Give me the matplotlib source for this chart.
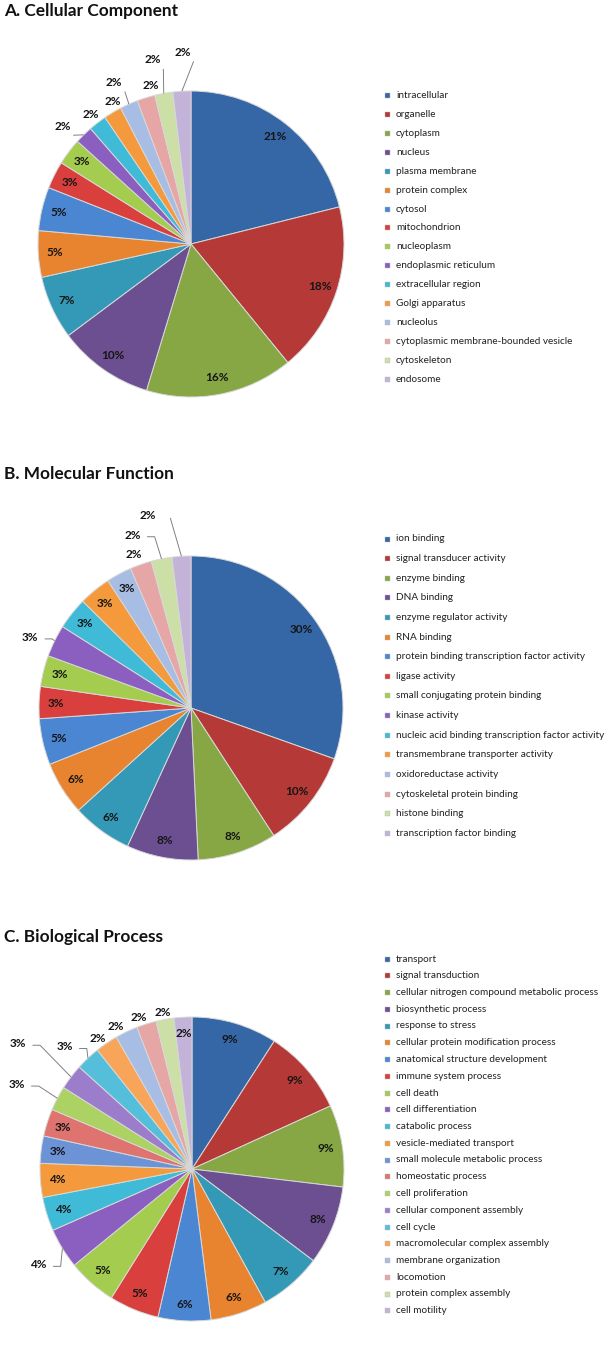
import numpy as np
import matplotlib
matplotlib.use("Agg")
import matplotlib.pyplot as plt
from matplotlib.patches import Rectangle

plt.rcParams['font.family'] = ['Lato', 'DejaVu Sans']

# ---------------- data ----------------
cc_labels = ["intracellular", "organelle", "cytoplasm", "nucleus", "plasma membrane",
             "protein complex", "cytosol", "mitochondrion", "nucleoplasm",
             "endoplasmic reticulum", "extracellular region", "Golgi apparatus",
             "nucleolus", "cytoplasmic membrane-bounded vesicle", "cytoskeleton", "endosome"]
cc_values = [21.1, 18.0, 15.6, 10.1, 6.7, 4.9, 4.6, 2.9, 2.8, 1.9, 1.9, 1.9, 1.9, 1.9, 1.9, 1.9]

mf_labels = ["ion binding", "signal transducer activity", "enzyme binding", "DNA binding",
             "enzyme regulator activity", "RNA binding",
             "protein binding transcription factor activity", "ligase activity",
             "small conjugating protein binding", "kinase activity",
             "nucleic acid binding transcription factor activity",
             "transmembrane transporter activity", "oxidoreductase activity",
             "cytoskeletal protein binding", "histone binding", "transcription factor binding"]
mf_values = [30.4, 10.4, 8.4, 7.6, 6.4, 5.7, 4.9, 3.4, 3.3, 3.4, 3.4, 3.4, 2.7, 2.3, 2.2, 2.0]

bp_labels = ["transport", "signal transduction", "cellular nitrogen compound metabolic process",
             "biosynthetic process", "response to stress", "cellular protein modification process",
             "anatomical structure development", "immune system process", "cell death",
             "cell differentiation", "catabolic process", "vesicle-mediated transport",
             "small molecule metabolic process", "homeostatic process", "cell proliferation",
             "cellular component assembly", "cell cycle", "macromolecular complex assembly",
             "membrane organization", "locomotion", "protein complex assembly", "cell motility"]
bp_values = [9.1, 9.1, 8.7, 8.4, 6.7, 6.0, 5.6, 5.3, 5.2, 4.3, 3.6, 3.6,
             2.9, 2.9, 2.6, 2.7, 2.6, 2.4, 2.4, 2.1, 1.9, 1.9]

titles = ["A. Cellular Component", "B. Molecular Function", "C. Biological Process"]

# ---------------- style ----------------
strong = ['#3567A6', '#B53A37', '#86A744', '#6B4F91', '#3399B7', '#E8842F',
          '#4A86D2', '#D9403D', '#A4CC4E', '#8A5FBF', '#3FBBD8', '#F59A3C']
medium = ['#6B93D6', '#DE7370', '#ABD263', '#9B7DCB', '#55BEDB', '#F8A55A']
pastel = ['#A8BDE3', '#E6A6A6', '#CBDFA6', '#C3B3D9']
cc_colors = strong + pastel
mf_colors = strong + pastel
bp_colors = strong + medium + pastel

# per-slice label placement (radius factor, angular nudge in degrees)
cc_lab = {9: (1.14, 3), 10: (1.07, 0), 11: (1.06, -2), 12: (1.17, 1.5), 13: (1.065, -3),
          14: (1.23, 1.5), 15: (1.255, -1)}
mf_lab = {9: (1.155, 2.5), 13: (1.08, 1), 14: (1.2, 7.5), 15: (1.30, 9)}
bp_lab = {9: (1.19, 0.5), 14: (1.28, 2), 15: (1.41, 1.5), 16: (1.16, 3), 17: (1.06, 1.5),
          18: (1.065, 2.5), 19: (1.06, 2), 20: (1.05, 0.4)}

W, H = 608, 1358
fig = plt.figure(figsize=(W / 100, H / 100), dpi=100)
fig.patch.set_facecolor('white')

L = 1.25


def draw_pie(values, colors, labels, cx, cy, r, labpos, title, ty,
             leg_y0, leg_dy):
    ax = fig.add_axes([(cx - L * r) / W, 1 - (cy + L * r) / H, 2 * L * r / W, 2 * L * r / H])
    wedges, _ = ax.pie(values, colors=colors, startangle=90, counterclock=False, radius=1,
                       wedgeprops=dict(edgecolor='#d8d8d8', linewidth=0.7))
    ax.set_xlim(-L, L)
    ax.set_ylim(-L, L)
    ax.set_aspect('equal')
    ax.axis('off')
    tot = sum(values)
    for i, (w, v) in enumerate(zip(wedges, values)):
        mid = np.deg2rad((w.theta1 + w.theta2) / 2)
        rr, dth = labpos.get(i, (0.89, 0))
        ang = mid + np.deg2rad(dth)
        lx, ly = rr * np.cos(ang), rr * np.sin(ang)
        ax.text(lx, ly, f"{100 * v / tot:.0f}%", ha='center', va='center',
                fontsize=8.5, fontweight='bold', color='#151515')
        if rr > 1.1:
            ex, ey = np.cos(mid), np.sin(mid)
            sx, sy = lx + 0.095, ly - 0.01
            if ex > sx + 0.05:
                xs, ys = [sx, sx + 0.05, ex], [sy, sy, ey]
            else:
                xs, ys = [lx + 0.07, ex], [ly - 0.06, ey]
            ax.plot(xs, ys, color='#808080', lw=0.7, solid_capstyle='butt')
    fig.text(4 / W, 1 - ty / H, title, ha='left', va='center', fontsize=12.4,
             fontweight='bold', color='#111111')
    for i, (lab, col) in enumerate(zip(labels, colors)):
        y = leg_y0 + i * leg_dy
        fig.add_artist(Rectangle(((387 - 2.5) / W, 1 - (y + 2.5) / H), 5 / W, 5 / H,
                                 transform=fig.transFigure, facecolor=col,
                                 edgecolor='#bbbbbb', linewidth=0.3))
        fig.text(396 / W, 1 - y / H, lab, ha='left', va='center', fontsize=7.2,
                 color='#222222')


draw_pie(cc_values, cc_colors, cc_labels, 191, 244, 153, cc_lab, titles[0], 11, 95.7, 18.89)
draw_pie(mf_values, mf_colors, mf_labels, 191, 708, 152, mf_lab, titles[1], 474, 539, 19.62)
draw_pie(bp_values, bp_colors, bp_labels, 192, 1169, 152, bp_lab, titles[2], 937, 959, 16.75)

fig.savefig("out.png", dpi=100, facecolor='white')
